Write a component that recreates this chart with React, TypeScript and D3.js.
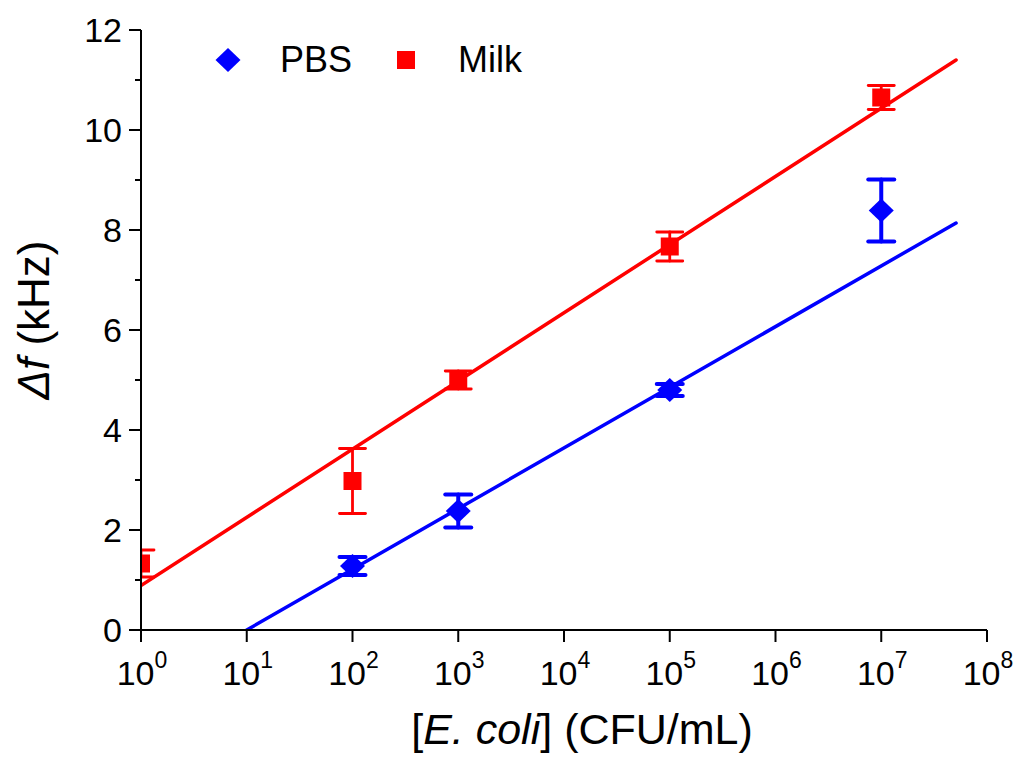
import React from 'react';
import * as d3 from 'd3';

// measured values (E. coli concentration in CFU/mL, frequency shift in kHz)
const pbsX = [1e2, 1e3, 1e5, 1e7];
const pbsY = [1.28, 2.38, 4.8, 8.39];
const pbsErr = [0.18, 0.33, 0.12, 0.62];

const milkX = [1e0, 1e2, 1e3, 1e5, 1e7];
const milkY = [1.33, 2.98, 5.0, 7.67, 10.65];
const milkErr = [0.27, 0.65, 0.18, 0.29, 0.24];

// linear fits (end points)
const pbsFitX = [1e1, 5.1e7];
const pbsFitY = [0, 8.14];
const milkFitX = [1e0, 5.1e7];
const milkFitY = [0.89, 11.4];

const xTickExp = [0, 1, 2, 3, 4, 5, 6, 7, 8];
const yMajor = [0, 2, 4, 6, 8, 10, 12];
const yMinor = [1, 3, 5, 7, 9, 11];

const BLUE = '#0000ff';
const RED = '#ff0000';
const FONT = '"Liberation Sans", Arial, Helvetica, sans-serif';

const W = 1014, H = 758;
const margin = { left: 141, right: 27, top: 30, bottom: 128 };

function diamond(w: number, h: number) {
  return `M0,${-h}L${w},0L0,${h}L${-w},0Z`;
}

export default function App() {
  const x = d3.scaleLog().domain([1, 1e8]).range([margin.left, W - margin.right]);
  const y = d3.scaleLinear().domain([0, 12]).range([H - margin.bottom, margin.top]);
  const line = d3.line<[number, number]>().x(d => x(d[0])).y(d => y(d[1]));

  const x0 = margin.left, y0 = H - margin.bottom;
  const cap = 13;

  const errBars = (xs: number[], ys: number[], es: number[], color: string, sw: number) =>
    xs.map((v, i) => {
      const cx = x(v), top = y(ys[i] + es[i]), bot = y(ys[i] - es[i]);
      return (
        <g key={i} stroke={color} strokeWidth={sw} strokeLinecap="round">
          <line x1={cx} x2={cx} y1={top} y2={bot} />
          <line x1={cx - cap} x2={cx + cap} y1={top} y2={top} />
          <line x1={cx - cap} x2={cx + cap} y1={bot} y2={bot} />
        </g>
      );
    });

  return (
    <svg width={W} height={H} style={{ position: 'absolute', left: 0, top: 0, background: '#fff' }}
      fontFamily={FONT}>
      <defs>
        <clipPath id="plotclip">
          <rect x={x0} y={margin.top - 20} width={W - margin.right - x0 + 10} height={y0 - margin.top + 20} />
        </clipPath>
      </defs>

      <g clipPath="url(#plotclip)">
        {/* fit lines */}
        <path d={line(pbsFitX.map((v, i) => [v, pbsFitY[i]]) as any) || ''} fill="none" stroke={BLUE} strokeWidth={3.5} strokeLinecap="round" />
        <path d={line(milkFitX.map((v, i) => [v, milkFitY[i]]) as any) || ''} fill="none" stroke={RED} strokeWidth={3.5} strokeLinecap="round" />

        {errBars(milkX, milkY, milkErr, RED, 2.8)}
        {errBars(pbsX, pbsY, pbsErr, BLUE, 4)}

        {milkX.map((v, i) => (
          <rect key={i} x={x(v) - 9} y={y(milkY[i]) - 9} width={18} height={18} fill={RED} />
        ))}
        {pbsX.map((v, i) => (
          <path key={i} d={diamond(12.5, 12)} transform={`translate(${x(v)},${y(pbsY[i])})`} fill={BLUE} />
        ))}
      </g>

      {/* axes */}
      <g stroke="#000" strokeWidth={2}>
        <line x1={x0} x2={x0} y1={margin.top} y2={y0 + 1} />
        <line x1={x0 - 1} x2={W - margin.right} y1={y0} y2={y0} />
        {yMajor.map(v => <line key={'M' + v} x1={x0 - 12} x2={x0} y1={y(v)} y2={y(v)} />)}
        {yMinor.map(v => <line key={'m' + v} x1={x0 - 6} x2={x0} y1={y(v)} y2={y(v)} />)}
        {xTickExp.map(e => <line key={e} x1={x(10 ** e)} x2={x(10 ** e)} y1={y0} y2={y0 + 12} />)}
      </g>

      {yMajor.map(v => (
        <text key={v} x={x0 - 19} y={y(v) + 12} textAnchor="end" fontSize={34}>{v}</text>
      ))}
      {xTickExp.map(e => (
        <text key={e} x={x(10 ** e) + 1} y={y0 + 55} textAnchor="middle" fontSize={34}>
          <tspan>10</tspan>
          <tspan dy={-17} fontSize={23}>{e}</tspan>
        </text>
      ))}

      {/* axis titles */}
      <text x={582} y={744} textAnchor="middle" fontSize={43}>
        [<tspan fontStyle="italic">E. coli</tspan>] (CFU/mL)
      </text>
      <text transform="translate(49,320) rotate(-90)" textAnchor="middle" fontSize={44}>
        <tspan fontStyle="italic">Δf</tspan> (kHz)
      </text>

      {/* legend */}
      <path d={diamond(12.5, 12)} transform="translate(228,60)" fill={BLUE} />
      <text x={280} y={72} fontSize={36}>PBS</text>
      <rect x={397} y={51} width={18} height={18} fill={RED} />
      <text x={458} y={72} fontSize={36}>Milk</text>
    </svg>
  );
}
